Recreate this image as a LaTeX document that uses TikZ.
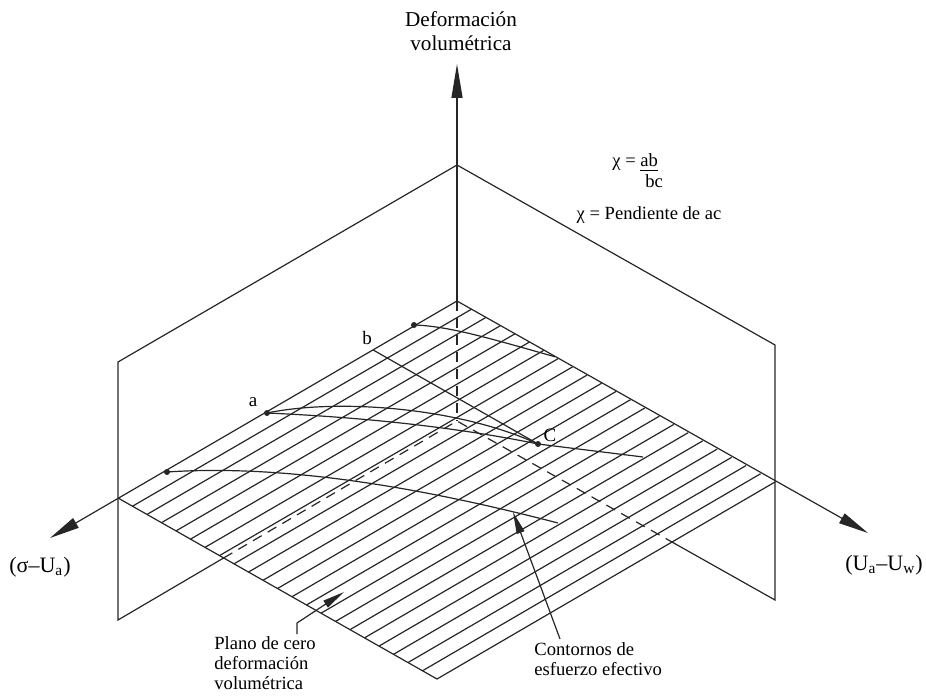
\documentclass[tikz,border=0pt]{standalone}
\usepackage{fontspec}
\setmainfont{Liberation Serif}
\usetikzlibrary{arrows.meta,calc}
\begin{document}
\begin{tikzpicture}[x=0.5pt,y=-0.5pt,
  ln/.style={line width=0.6pt, draw=black!85},
  hid/.style={ln, dash pattern=on 5pt off 3.5pt},
  bigtip/.style={-{Triangle[length=17pt,width=5.5pt]}},
  axtip/.style={-{Triangle[length=15pt,width=5.5pt]}},
  smalltip/.style={-{Triangle[length=11pt,width=4pt]}},
  dot/.style={circle, fill=black!85, inner sep=0pt, minimum size=3pt},
  lbl/.style={font=\fontsize{9.5}{11}\selectfont, inner sep=1pt},
  note/.style={font=\fontsize{9.3}{10}\selectfont, align=left, inner sep=0pt},
]
\useasboundingbox (0,0) rectangle (926,700);

% key points (pixel coordinates)
\coordinate (O) at (457,301);
\coordinate (L) at (118,498);
\coordinate (R) at (775,482);
\coordinate (F) at (437,679);
\coordinate (Top) at (457,165);
\coordinate (LT) at (118,362);
\coordinate (LB) at (118,620);
\coordinate (RT) at (775,345);
\coordinate (RB) at (775,600);
\coordinate (H) at (457,421);
\coordinate (LX) at (intersection of LB--H and L--F);
\coordinate (RX) at (intersection of RB--H and R--F);
\coordinate (Ztip) at (457,64);
\coordinate (Stip) at (50,538);
\coordinate (Utip) at (868,533);

% hatching of the zero-deformation plane
\foreach \k in {1,...,21}
  \draw[ln] ($(L)!\k/22!(F)$) -- ($(O)!\k/22!(R)$);
\draw[ln] (L) -- (F) -- (R);

% vertical planes
\draw[ln] (LX) -- (LB) -- (LT) -- (Top);
\draw[ln] (RX) -- (RB) -- (RT) -- (Top);
\draw[hid] (LX) -- (H) -- (RX);
\draw[hid] (O) -- (H);

% axes
\draw[ln, bigtip] (O) -- (Ztip);
\draw[ln, axtip] (O) -- (Stip);
\draw[ln, axtip] (O) -- (Utip);

% contours
\node[dot] (pa) at (267,413) {};
\node[dot] (pc) at (538,444) {};
\node[dot] (pt) at (414,325) {};
\node[dot] (pl) at (167,472) {};
\coordinate (pb) at ($(O)!0.248!(L)$);
\coordinate (tend) at ($(O)!0.308!(R)$);
\coordinate (cend) at (643,457);
\coordinate (lend) at (558,523);

\draw[ln] (pt.center) .. controls (450,326) and (495,340) .. (tend);
\draw[ln] (pa.center) .. controls (340,398) and (460,408) .. (pc.center);
\draw[ln] (pa.center) .. controls (380,418) and (470,430) .. (pc.center) -- (cend);
\draw[ln] (pb) -- (pc.center);
\draw[ln] (pl.center) .. controls (300,463) and (450,495) .. (lend);

\node[lbl] (la) at (253,402) {a};
\node[lbl] (lb) at (367,338) {b};
\node[lbl] (lc) at (550,435) {C};

% texts
\node[font=\fontsize{10.6}{11.8}\selectfont, align=center] (zlab) at (461,31) {Deformación\\volumétrica};
\node[font=\fontsize{11}{13}\selectfont, inner sep=0pt] (slab) at (40,567) {(σ–U\textsubscript{a})};
\node[font=\fontsize{11}{13}\selectfont, inner sep=0pt] (ulab) at (884,565) {(U\textsubscript{a}–U\textsubscript{w})};
\node[font=\fontsize{9.3}{11}\selectfont, inner sep=0pt, anchor=base west] (chi1) at (612,167) {χ = \underline{ab}};
\node[font=\fontsize{9.3}{11}\selectfont, inner sep=0pt, anchor=base west] (chi2) at (645,188) {bc};
\node[font=\fontsize{9.3}{11}\selectfont, inner sep=0pt] (chi3) at (649,215) {χ = Pendiente de ac};

\node[note, anchor=north west] (plano) at (214,636) {Plano de cero\\deformación\\volumétrica};
\coordinate (plStart) at (297,634);
\coordinate (plBend) at (297,623);
\coordinate (plTip) at (344,592);
\draw[ln, smalltip] (plStart) -- (plBend) -- (plTip);

\node[note, anchor=north west] (cont) at (534,642) {Contornos de\\esfuerzo efectivo};
\coordinate (ctStart) at (560,639);
\coordinate (ctTip) at (513,512);
\draw[ln, smalltip] (ctStart) -- (ctTip);
\end{tikzpicture}
\end{document}
